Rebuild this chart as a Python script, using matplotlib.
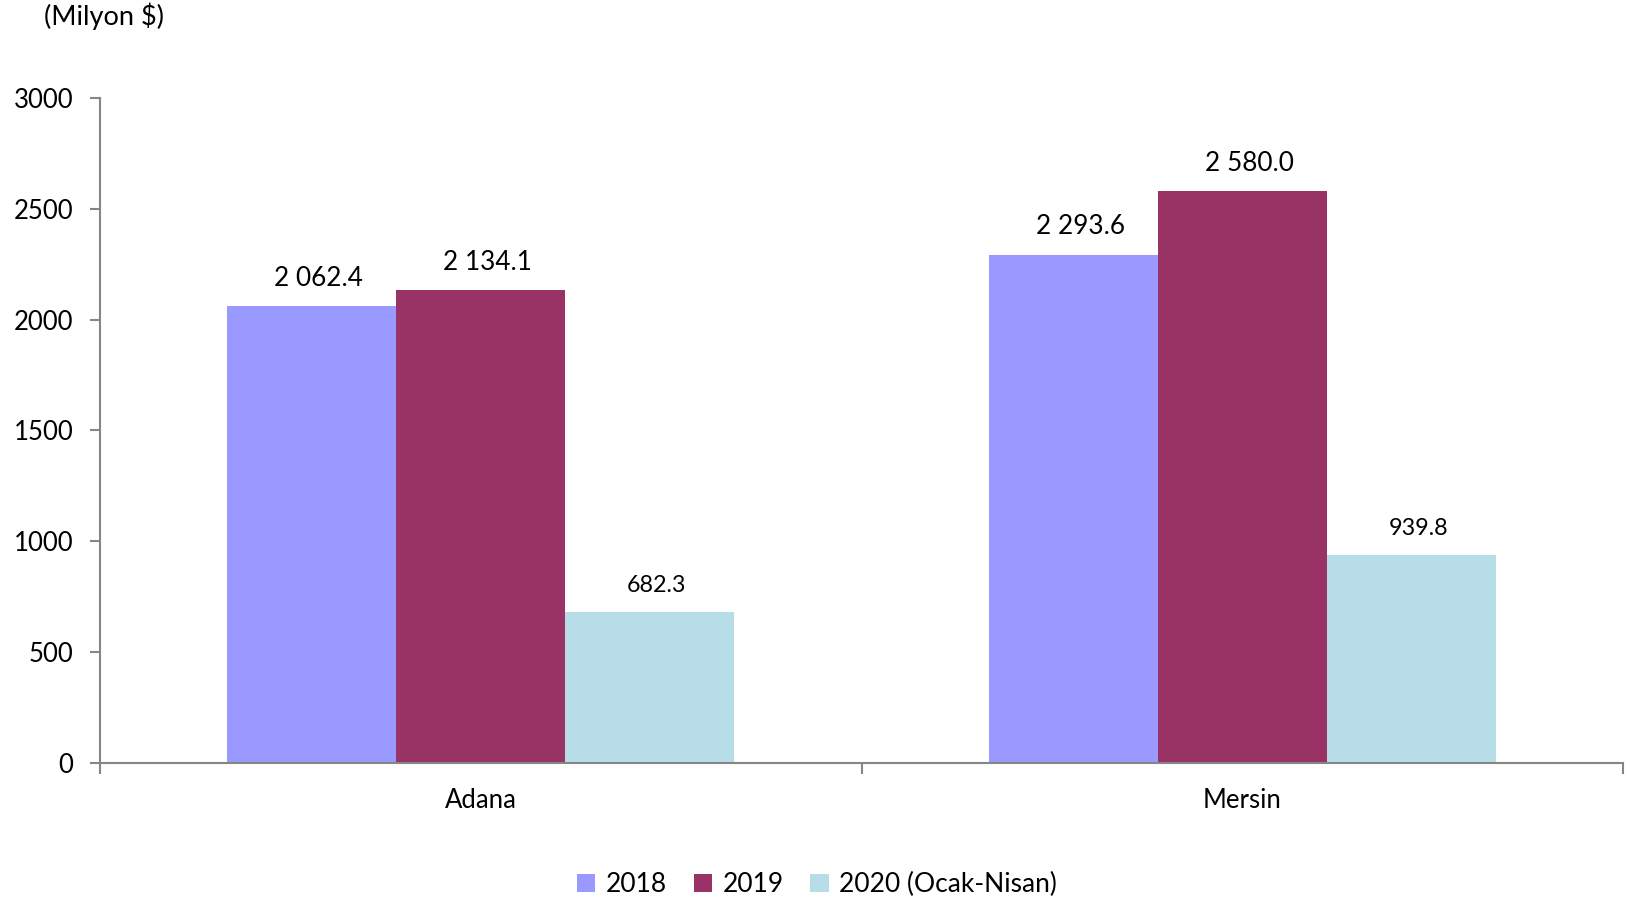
import numpy as np
import matplotlib.pyplot as plt

plt.rcParams['font.family'] = ['Lato', 'DejaVu Sans']

sehirler = ["Adana", "Mersin"]
yillar = ["2018", "2019", "2020 (Ocak-Nisan)"]
degerler_2018 = [2062.4, 2293.6]
degerler_2019 = [2134.1, 2580.0]
degerler_2020 = [682.3, 939.8]
etiketler_2018 = ["2 062.4", "2 293.6"]
etiketler_2019 = ["2 134.1", "2 580.0"]
etiketler_2020 = ["682.3", "939.8"]

renkler = ["#9999FF", "#993366", "#B7DEE8"]

fig = plt.figure(figsize=(16.34, 9.01), dpi=100)
ax = fig.add_axes([0.0612, 0.1532, 0.9321, 0.738])

x = np.arange(len(sehirler))
w = 0.222

seriler = [
    (degerler_2018, etiketler_2018, 18.8),
    (degerler_2019, etiketler_2019, 18.8),
    (degerler_2020, etiketler_2020, 16.8),
]

for i, (vals, labs, fs) in enumerate(seriler):
    pos = x + (i - 1) * w
    ax.bar(pos, vals, width=w, color=renkler[i], label=yillar[i])
    for p, v, t in zip(pos, vals, labs):
        ax.annotate(t, (p, v), xytext=(5, 11), textcoords="offset points",
                    ha="center", va="bottom", fontsize=fs)

ax.set_xlim(-0.5, 1.5)
ax.set_ylim(0, 3000)
ax.set_yticks(np.arange(0, 3001, 500))
ax.tick_params(axis="y", labelsize=18.5, length=7, width=1.5, color="#868686", pad=12)

ax.set_xticks([-0.5, 0.5, 1.5])
ax.set_xticklabels([])
ax.set_xticks(x, minor=True)
ax.set_xticklabels(sehirler, minor=True, fontsize=18.5)
ax.tick_params(axis="x", which="major", length=8, width=1.5, color="#868686")
ax.tick_params(axis="x", which="minor", length=0, pad=18)

for s in ["top", "right"]:
    ax.spines[s].set_visible(False)
for s in ["left", "bottom"]:
    ax.spines[s].set_color("#868686")
    ax.spines[s].set_linewidth(1.5)

fig.text(0.027, 0.997, "(Milyon $)", fontsize=19.5, ha="left", va="top")

fig.legend(loc="lower center", bbox_to_anchor=(0.5, -0.022), ncol=3,
           frameon=False, fontsize=19, handlelength=0.7, handleheight=0.7,
           handletextpad=0.4, columnspacing=1.0)

fig.savefig("out.png", dpi=100)
